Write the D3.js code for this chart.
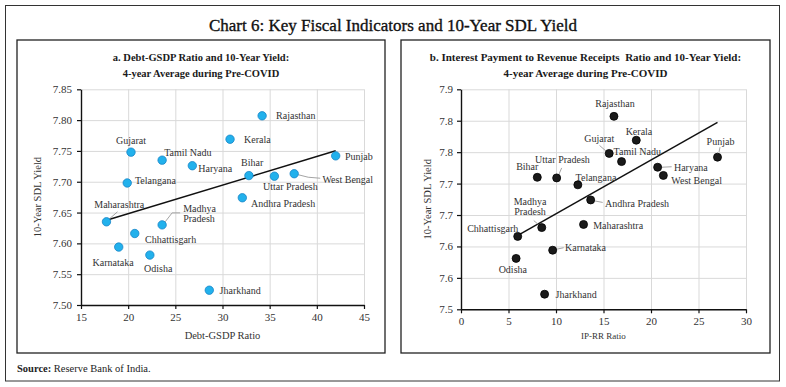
<!DOCTYPE html>
<html><head><meta charset="utf-8">
<script src="https://cdn.jsdelivr.net/npm/d3@7"></script>
<style>body{margin:0;background:#fff}svg{display:block}text{font-family:"Liberation Serif","DejaVu Serif",serif;white-space:pre}</style>
</head><body>
<svg id="c" width="786" height="387"></svg>
<script>
// ---------- DATA ----------
const states = ["Gujarat","Tamil Nadu","Haryana","Telangana","Maharashtra","Madhya Pradesh","Rajasthan","Kerala","Punjab","Bihar","Uttar Pradesh","West Bengal","Andhra Pradesh","Chhattisgarh","Karnataka","Odisha","Jharkhand"];
const sdlYield = [7.748,7.735,7.726,7.698,7.635,7.630,7.807,7.769,7.742,7.710,7.709,7.713,7.674,7.616,7.594,7.581,7.524];
const debtGSDP = [20.3,23.6,26.8,19.9,17.7,23.6,34.2,30.8,42.0,32.8,35.5,37.6,32.1,20.7,19.0,22.3,28.6];
const ipRR = [15.6,16.9,20.7,12.3,12.9,8.5,16.1,18.45,27.0,8.03,10.07,21.3,13.65,5.97,9.65,5.8,8.8];
const xTicksA = [15,20,25,30,35,40,45];
const xTicksB = [0,5,10,15,20,25,30];
const yTicks = [7.50,7.55,7.60,7.65,7.70,7.75,7.80,7.85];
const yTickLabelsA = ["7.50","7.55","7.60","7.65","7.70","7.75","7.80","7.85"];
const yTickLabelsB = ["7.5","7.6","7.6","7.7","7.7","7.8","7.8","7.9"];

// ---------- LABEL LAYOUT (offsets from point, px) ----------
// [dx, dy, anchor, leader polyline or null]
const layoutA = {
  "Gujarat":[0,-11.5,"middle"],
  "Tamil Nadu":[2,-8,"start"],
  "Haryana":[6,2.6,"start"],
  "Telangana":[7.7,-2.7,"start"],
  "Maharashtra":[12.8,-17.3,"middle",[[3,-3],[11,-10]]],
  "Madhya Pradesh":[21,-16.7,"start",[[3,-3],[10,-12],[18,-12]]],
  "Rajasthan":[14,0,"start"],
  "Kerala":[14,0.3,"start"],
  "Punjab":[9.3,0.7,"start"],
  "Bihar":[3.3,-13.4,"middle"],
  "Uttar Pradesh":[16,10.3,"middle"],
  "West Bengal":[28.3,5.6,"start",[[4,1],[14,3.5],[26,4.5]]],
  "Andhra Pradesh":[8.7,5.6,"start"],
  "Chhattisgarh":[10.3,5.7,"start"],
  "Karnataka":[-5.6,15,"middle"],
  "Odisha":[8.3,13,"middle"],
  "Jharkhand":[10.3,0,"start"]
};
const layoutB = {
  "Bihar":[-10,-10.4,"middle"],
  "Uttar Pradesh":[5.8,-18.7,"middle",[[2,-3],[5,-10]]],
  "Telangana":[-2.3,-7.4,"start"],
  "Andhra Pradesh":[14.3,3.3,"start",[[4,1],[12,2.5]]],
  "Madhya Pradesh":[-11.7,-26.3,"middle",[[-2,-2],[-8,-7]]],
  "Maharashtra":[9.6,0.7,"start"],
  "Chhattisgarh":[0.6,-7.4,"end"],
  "Odisha":[-3.3,11,"middle"],
  "Karnataka":[12.3,-2.7,"start",[[4,-1],[11,-2.5]]],
  "Jharkhand":[11,0,"start"],
  "Rajasthan":[1,-12.4,"middle"],
  "Kerala":[2.7,-9,"middle"],
  "Gujarat":[-10,-14.7,"middle",[[-2,-1.3],[-9.7,-8]]],
  "Tamil Nadu":[-8,-10,"start"],
  "Haryana":[16.3,0,"start",[[4,0],[14,-0.5]]],
  "West Bengal":[8,5,"start"],
  "Punjab":[3,-16,"middle",[[1.5,-5],[2.5,-10]]]
};

const svg = d3.select("#c");
svg.append("rect").attr("width",786).attr("height",387).attr("fill","#fff");
// outer frame
svg.append("rect").attr("x",5.5).attr("y",5.5).attr("width",774).attr("height",375.5)
  .attr("fill","none").attr("stroke","#333").attr("stroke-width",1);
svg.append("text").attr("x",393).attr("y",31).attr("text-anchor","middle")
  .attr("font-size",17).attr("fill","#111").attr("stroke","#111").attr("stroke-width",0.35)
  .text("Chart 6: Key Fiscal Indicators and 10-Year SDL Yield");
// source
const src = svg.append("text").attr("x",17).attr("y",371.5).attr("font-size",10.5).attr("fill","#222");
src.append("tspan").attr("font-weight","bold").text("Source:");
src.append("tspan").text(" Reserve Bank of India.");

function regression(xs, ys){
  const n = xs.length, mx = d3.mean(xs), my = d3.mean(ys);
  let sxy=0, sxx=0;
  for(let i=0;i<n;i++){ sxy += (xs[i]-mx)*(ys[i]-my); sxx += (xs[i]-mx)*(xs[i]-mx); }
  const b = sxy/sxx; return {a: my - b*mx, b};
}

function panel(cfg){
  const g = svg.append("g");
  g.append("rect").attr("x",cfg.box[0]).attr("y",cfg.box[1]).attr("width",cfg.box[2]).attr("height",cfg.box[3])
    .attr("fill","none").attr("stroke","#222").attr("stroke-width",1.3);
  const cx = cfg.box[0]+cfg.box[2]/2;
  cfg.sub.forEach((s,i)=>{
    g.append("text").attr("x",cx).attr("y",61+i*16).attr("text-anchor","middle")
      .attr("font-size",cfg.subSize).attr("font-weight","bold").attr("fill","#1a1a1a").text(s);
  });
  const x = d3.scaleLinear().domain(cfg.xDom).range(cfg.xR);
  const y = d3.scaleLinear().domain([7.50,7.85]).range(cfg.yR);
  // grid
  g.append("g").selectAll("line").data(cfg.xTicks).join("line")
    .attr("x1",d=>x(d)+0.5).attr("x2",d=>x(d)+0.5).attr("y1",cfg.yR[0]).attr("y2",cfg.yR[1])
    .attr("stroke","#d9d9d9").attr("stroke-width",1);
  g.append("g").selectAll("line").data(yTicks).join("line")
    .attr("x1",cfg.xR[0]).attr("x2",cfg.xR[1]).attr("y1",d=>y(d)+0.5).attr("y2",d=>y(d)+0.5)
    .attr("stroke","#d9d9d9").attr("stroke-width",1);
  // axes
  const xa = g.append("g").attr("transform",`translate(0,${cfg.yR[0]})`)
    .call(d3.axisBottom(x).tickValues(cfg.xTicks).tickSize(4).tickSizeOuter(0).tickPadding(4).tickFormat(d3.format("d")));
  const ya = g.append("g").attr("transform",`translate(${cfg.xR[0]},0)`)
    .call(d3.axisLeft(y).tickValues(yTicks).tickSize(4).tickSizeOuter(0).tickPadding(cfg.yPad).tickFormat((d,i)=>cfg.yLabels[i]));
  [xa,ya].forEach(a=>{
    a.select(".domain").attr("stroke","#111").attr("stroke-width",1.4);
    a.selectAll(".tick line").attr("stroke","#111").attr("stroke-width",1.2);
    a.selectAll(".tick text").attr("font-family","Liberation Serif").attr("font-size",11).attr("fill","#333");
  });
  g.append("text").attr("x",(cfg.xR[0]+cfg.xR[1])/2).attr("y",cfg.xTitleY).attr("text-anchor","middle")
    .attr("font-size",cfg.xTitleSize).attr("fill","#333").text(cfg.xTitle);
  g.append("text").attr("transform",`translate(${cfg.yTitleX},${(cfg.yR[0]+cfg.yR[1])/2}) rotate(-90)`)
    .attr("text-anchor","middle").attr("font-size",10.5).attr("fill","#333").text("10-Year SDL Yield");
  // trend line
  const r = regression(cfg.xs, sdlYield);
  const [x0,x1] = d3.extent(cfg.xs);
  g.append("line").attr("x1",x(x0)).attr("y1",y(r.a+r.b*x0)).attr("x2",x(x1)).attr("y2",y(r.a+r.b*x1))
    .attr("stroke","#111").attr("stroke-width",1.5);
  // points
  const pts = states.map((s,i)=>({s, px:x(cfg.xs[i]), py:y(sdlYield[i])}));
  pts.forEach(p=>{
    const L = cfg.layout[p.s];
    if(L[3]) g.append("polyline").attr("points",L[3].map(q=>[p.px+q[0],p.py+q[1]].join(",")).join(" "))
      .attr("fill","none").attr("stroke","#9a9a9a").attr("stroke-width",0.9);
  });
  g.append("g").selectAll("circle").data(pts).join("circle")
    .attr("cx",d=>d.px).attr("cy",d=>d.py).attr("r",cfg.r)
    .attr("fill",cfg.fill).attr("stroke",cfg.stroke).attr("stroke-width",0.8);
  pts.forEach(p=>{
    const L = cfg.layout[p.s];
    const lines = (p.s==="Madhya Pradesh") ? ["Madhya","Pradesh"] : [p.s];
    lines.forEach((t,k)=>{
      g.append("text").attr("x",p.px+L[0]).attr("y",p.py+L[1]+k*10.7).attr("dy","0.35em")
        .attr("text-anchor",L[2]).attr("font-size",10).attr("fill","#333").text(t);
    });
  });
}

panel({box:[17,40,368,313], sub:["a. Debt-GSDP Ratio and 10-Year Yield:","4-year Average during Pre-COVID"], subSize:10.5,
  xDom:[15,45], xR:[81,364], yR:[305,89.3], xTicks:xTicksA, yLabels:yTickLabelsA, yPad:5,
  xTitle:"Debt-GSDP Ratio", xTitleY:339, xTitleSize:10.5, yTitleX:41,
  xs:debtGSDP, layout:layoutA, r:4.2, fill:"#22b1ec", stroke:"#1684c6"});
panel({box:[401,40,369,313], sub:["b. Interest Payment to Revenue Receipts  Ratio and 10-Year Yield:","4-year Average during Pre-COVID"], subSize:11,
  xDom:[0,30], xR:[461,746], yR:[309.3,89.3], xTicks:xTicksB, yLabels:yTickLabelsB, yPad:4,
  xTitle:"IP-RR Ratio", xTitleY:339, xTitleSize:9, yTitleX:431,
  xs:ipRR, layout:layoutB, r:4, fill:"#1a1a1a", stroke:"#000"});
</script>
</body></html>
